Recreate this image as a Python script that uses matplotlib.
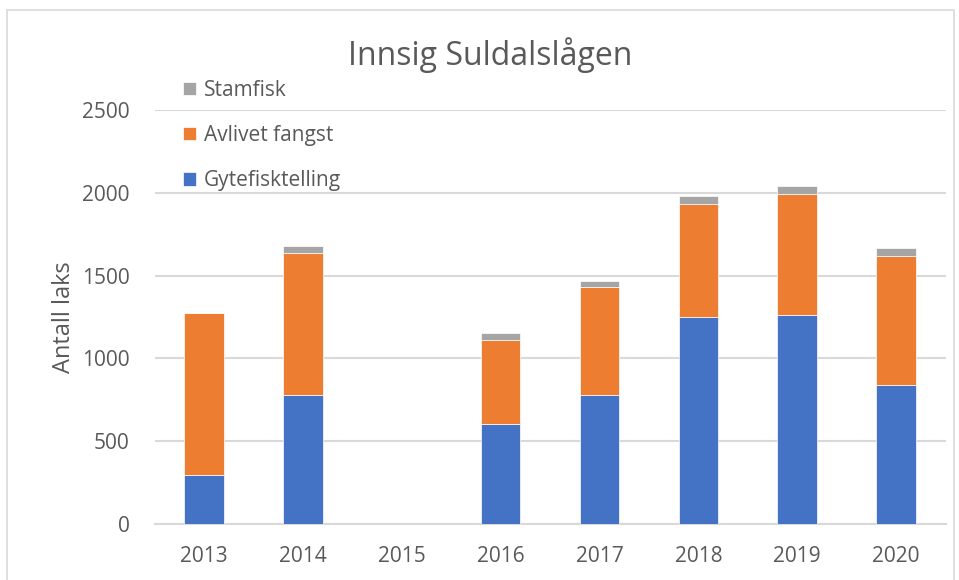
import matplotlib.pyplot as plt
import matplotlib.patches as mpatches
import numpy as np

plt.rcParams['font.family'] = ['Open Sans', 'DejaVu Sans']

# data
years = ['2013', '2014', '2015', '2016', '2017', '2018', '2019', '2020']
gytefisk = [295, 778, 0, 602, 781, 1247, 1265, 841]
avlivet = [978, 860, 0, 512, 650, 687, 727, 775]
stamfisk = [0, 38, 0, 38, 39, 46, 50, 50]

blue = '#4472C4'
orange = '#ED7D31'
grey = '#A5A5A5'
txt = '#595959'

fig = plt.figure(figsize=(9.59, 5.8), dpi=100)
ax = fig.add_axes([0.1612, 0.0966, 0.8248, 0.7137])

x = np.arange(len(years))
g = np.array(gytefisk)
a = np.array(avlivet)
s = np.array(stamfisk)
w = 0.4
b1 = ax.bar(x, g, w, color=blue, edgecolor='white', linewidth=0.5, zorder=3)
b2 = ax.bar(x, a, w, bottom=g, color=orange, edgecolor='white', linewidth=0.5, zorder=3)
b3 = ax.bar(x, s, w, bottom=g + a, color=grey, edgecolor='white', linewidth=0.5, zorder=3)

ax.set_xlim(-0.5, len(years) - 0.5)
ax.set_ylim(0, 2500)
ax.set_yticks(range(0, 2501, 500))
ax.set_xticks(x)
ax.set_xticklabels(years)
ax.yaxis.grid(True, color='#D9D9D9', linewidth=1.5, zorder=0)
ax.set_axisbelow(True)
for sp in ['top', 'right', 'left']:
    ax.spines[sp].set_visible(False)
ax.spines['bottom'].set_color('#D9D9D9')
ax.spines['bottom'].set_linewidth(1.5)
ax.tick_params(length=0, labelsize=15, labelcolor=txt)
ax.tick_params(axis='x', pad=16)
ax.tick_params(axis='y', pad=18)
ax.set_ylabel('Antall laks', fontsize=17, color=txt, labelpad=4)

fig.text(0.511, 0.905, 'Innsig Suldalslågen', ha='center', va='center',
         fontsize=23, color=txt)

leg = ax.legend([b3, b2, b1], ['Stamfisk', 'Avlivet fangst', 'Gytefisktelling'],
                loc='upper left', bbox_to_anchor=(0.191, 0.862),
                bbox_transform=fig.transFigure, frameon=False, fontsize=15,
                handlelength=0.6, handleheight=0.6, handletextpad=0.4,
                labelspacing=1.16, borderaxespad=0, borderpad=0)
for t in leg.get_texts():
    t.set_color(txt)

# outer chart border
fig.patches.append(mpatches.Rectangle((0.007, -0.01), 0.988, 0.993, transform=fig.transFigure,
                                      fill=False, edgecolor='#D9D9D9', linewidth=1.2))

fig.savefig('out.png', dpi=100)
